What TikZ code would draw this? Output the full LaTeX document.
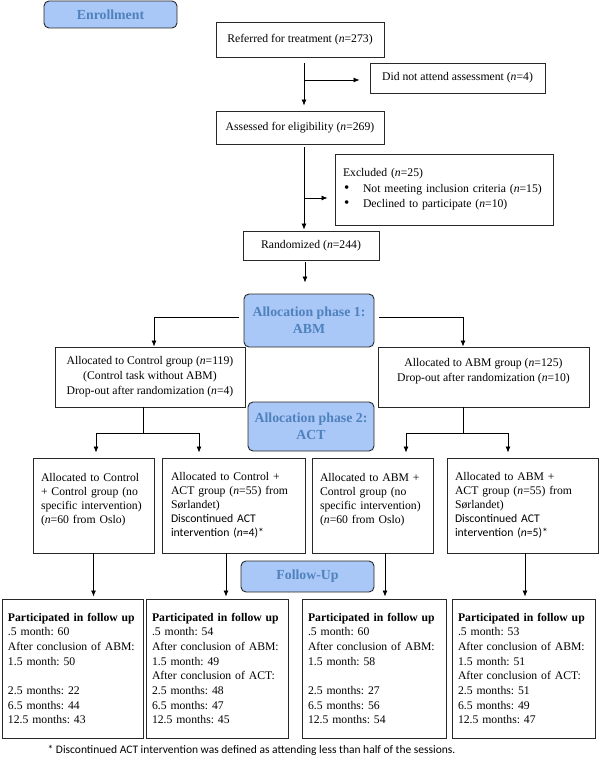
\documentclass[tikz,border=0pt]{standalone}
\usepackage{fontspec}
\setmainfont{Liberation Serif}
\newfontfamily\calfont{Carlito}
\usetikzlibrary{arrows.meta}
\definecolor{phasefill}{RGB}{169,200,247}
\definecolor{phasetext}{RGB}{79,129,189}
\definecolor{boxline}{RGB}{40,40,40}
\newcommand{\excbullet}{\hspace*{1pt}\makebox[19pt][l]{\fontsize{15}{15}\selectfont\textbullet}}
\frenchspacing

\begin{document}
\begin{tikzpicture}[x=1pt,y=-1pt,
    box/.style={draw=boxline,line width=0.9pt,inner sep=0pt,
      font=\fontsize{11.7}{15}\selectfont},
    phase/.style={draw=boxline,line width=0.9pt,rounded corners=5pt,
      fill=phasefill,text=phasetext,inner sep=0pt,align=center,
      font=\fontsize{13.8}{17}\selectfont\bfseries},
    grp/.style={box,align=left,font=\fontsize{11.7}{14}\selectfont},
    fol/.style={box,align=left,font=\fontsize{11.7}{14.7}\selectfont},
    arr/.style={-{Latex[length=6pt,width=5pt]},line width=0.8pt}]
  \useasboundingbox (0,0) rectangle (600,759);

  % enrollment
  \node[phase,minimum width=133pt,minimum height=27pt] (enroll) at (110.5,14.5) {Enrollment};
  \node[box,minimum width=168pt,minimum height=35pt] (ref) at (300,39.5)
    {Referred for treatment (\textit{n}=273)};
  \node[box,minimum width=175pt,minimum height=30pt] (dna) at (457.5,78)
    {Did not attend assessment (\textit{n}=4)};
  \node[box,minimum width=168pt,minimum height=33pt] (elig) at (300,127.5)
    {Assessed for eligibility (\textit{n}=269)};
  \node[box,minimum width=218pt,minimum height=71pt,align=left,text width=202pt] (excl) at (444,189.5)
    {Excluded (\textit{n}=25)\\[1pt]
     \excbullet Not meeting inclusion criteria (\textit{n}=15)\\
     \excbullet Declined to participate (\textit{n}=10)};
  \node[box,minimum width=136pt,minimum height=29pt] (rand) at (311,245.5)
    {Randomized (\textit{n}=244)};
  \coordinate (j1) at (304,80);
  \coordinate (j2) at (304,198);

  % allocation phase 1
  \node[phase,minimum width=130pt,minimum height=53pt] (alloca) at (309,320.5)
    {Allocation phase 1:\\ABM};
  \node[box,align=center,minimum width=190pt,minimum height=60pt] (ctrl) at (150,377)
    {Allocated to Control group (\textit{n}=119)\\(Control task without ABM)\\
     Drop-out after randomization (\textit{n}=4)};
  \node[box,align=center,minimum width=211pt,minimum height=60pt] (abm) at (483.5,377)
    {Allocated to ABM group (\textit{n}=125)\\Drop-out after randomization (\textit{n}=10)\\\mbox{}};
  \coordinate (s1) at (143,433);
  \coordinate (s2) at (463,433);

  % allocation phase 2
  \node[phase,minimum width=126pt,minimum height=49pt] (allocb) at (311,426.5)
    {Allocation phase 2:\\ACT};
  \node[grp,minimum width=121pt,minimum height=95pt,text width=105pt] (cc) at (93.5,505.5)
    {Allocated to Control\\+ Control group (no\\specific intervention)\\(\textit{n}=60 from Oslo)\\\mbox{}};
  \node[grp,minimum width=143pt,minimum height=95pt,text width=125pt] (cact) at (233.5,505.5)
    {Allocated to Control +\\ACT group (\textit{n}=55) from\\Sørlandet)\\
     {\calfont Discontinued ACT}\\{\calfont intervention (\textit{n}=4)*}};
  \node[grp,minimum width=121pt,minimum height=95pt,text width=105pt] (ac) at (372.5,505.5)
    {Allocated to ABM +\\Control group (no\\specific intervention)\\(\textit{n}=60 from Oslo)\\\mbox{}};
  \node[grp,minimum width=151pt,minimum height=95pt,text width=135pt] (aact) at (522.5,505.5)
    {Allocated to ABM +\\ACT group (\textit{n}=55) from\\Sørlandet)\\
     {\calfont Discontinued ACT}\\{\calfont intervention (\textit{n}=5)*}};

  % follow-up
  \node[phase,minimum width=133pt,minimum height=31pt] (follow) at (307.5,576.5) {Follow-Up};
  \node[fol,minimum width=141pt,minimum height=139pt,text width=129pt] (fa) at (72.5,668.5)
    {\textbf{Participated in follow up}\\.5 month: 60\\After conclusion of ABM:\\1.5 month: 50\\\mbox{}\\
     2.5 months: 22\\6.5 months: 44\\12.5 months: 43};
  \node[fol,minimum width=142pt,minimum height=139pt,text width=130pt] (fb) at (217,668.5)
    {\textbf{Participated in follow up}\\.5 month: 54\\After conclusion of ABM:\\1.5 month: 49\\
     After conclusion of ACT:\\2.5 months: 48\\6.5 months: 47\\12.5 months: 45};
  \node[fol,minimum width=144pt,minimum height=139pt,text width=132pt] (fc) at (374,668.5)
    {\textbf{Participated in follow up}\\.5 month: 60\\After conclusion of ABM:\\1.5 month: 58\\\mbox{}\\
     2.5 months: 27\\6.5 months: 56\\12.5 months: 54};
  \node[fol,minimum width=143pt,minimum height=139pt,text width=131pt] (fd) at (523.5,668.5)
    {\textbf{Participated in follow up}\\.5 month: 53\\After conclusion of ABM:\\1.5 month: 51\\
     After conclusion of ACT:\\2.5 months: 51\\6.5 months: 49\\12.5 months: 47};
  \node[font=\calfont\fontsize{11.5}{13}\selectfont,inner sep=0pt] (note) at (251.5,750)
    {* Discontinued ACT intervention was defined as attending less than half of the sessions.};

  \begin{scope}[arr]
    \draw[shorten <=6pt,shorten >=5pt] ([xshift=4pt]ref.south) -- ([xshift=4pt]elig.north);
    \draw[shorten >=10pt] (j1) -- (j1 -| dna.west);
    \draw[shorten <=3pt,shorten >=1pt] ([xshift=4pt]elig.south) -- ([xshift=-7pt]rand.north);
    \draw[shorten >=7pt] (j2) -- (j2 -| excl.west);
    \draw[shorten <=2pt,shorten >=11pt] ([xshift=-6pt]rand.south) -- ([xshift=-4pt]alloca.north);
    \draw[shorten <=5pt] ([yshift=3.5pt]alloca.west) -| ([xshift=4pt]ctrl.north);
    \draw[shorten <=5pt] ([yshift=3.5pt]alloca.east) -| ([xshift=-20.5pt]abm.north);
    \draw[-] (ctrl.south -| s1) -- (s1);
    \draw[shorten >=5pt] (s1) -| ([xshift=2.5pt]cc.north);
    \draw[shorten >=5pt] (s1) -| ([xshift=-34.5pt]cact.north);
    \draw[-] (abm.south -| s2) -- (s2);
    \draw[shorten >=5pt] (s2) -| ([xshift=33.5pt]ac.north);
    \draw[shorten >=5pt] (s2) -| ([xshift=-14.5pt]aact.north);
    \draw[shorten >=2pt] (cc.south) -- (cc.south |- fa.north);
    \draw[shorten >=2pt] ([xshift=-7.5pt]cact.south) -- ([xshift=-7.5pt]cact.south |- fb.north);
    \draw[shorten >=2pt] ([xshift=12.5pt]ac.south) -- ([xshift=12.5pt]ac.south |- fc.north);
    \draw[shorten >=2pt] ([xshift=2.5pt]aact.south) -- ([xshift=2.5pt]aact.south |- fd.north);
  \end{scope}
\end{tikzpicture}
\end{document}
